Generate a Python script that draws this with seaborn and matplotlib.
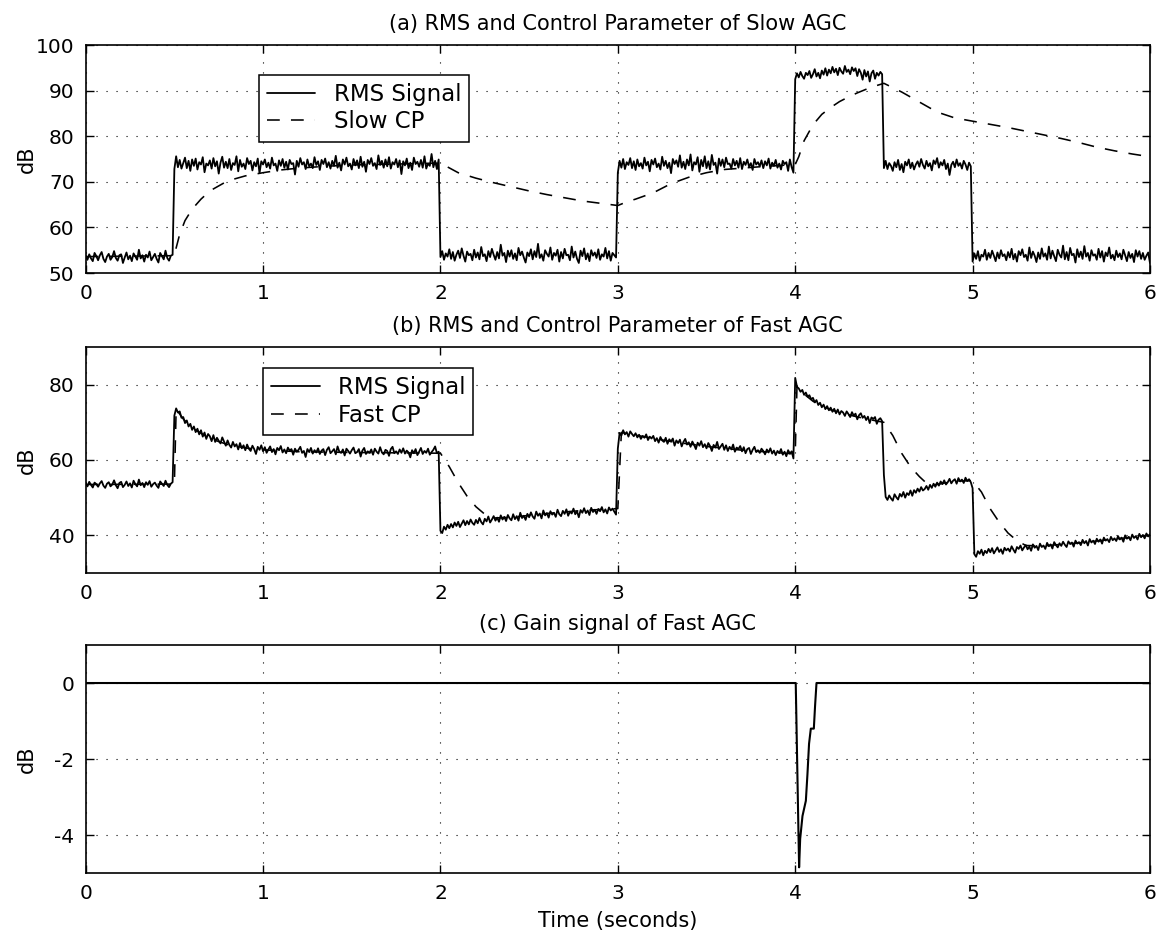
import numpy as np
import pandas as pd
import matplotlib
matplotlib.use("Agg")
import matplotlib.pyplot as plt
from matplotlib.lines import Line2D
import seaborn as sns

# ---------------------------------------------------------------------------
# Data (dB).  RMS signals are sampled every 10 ms from 0 s to 6 s.
# ---------------------------------------------------------------------------
SAMPLE_STEP = 0.01

# (a) RMS signal seen by the slow AGC, one list per input level segment
rms_a_0_05 = [53.8, 52.9, 54.1, 53.2, 52.6, 54.4, 53.7, 52.8, 53.9, 54.6,
              53.1, 52.4, 53.6, 54.2, 52.9, 53.5, 54.8, 53.3, 52.7, 53.9,
              54.1, 52.2, 53.4, 54.5, 53.0, 53.8, 52.6, 54.3, 53.6, 52.9,
              55.1, 53.2, 53.9, 52.5, 54.0, 53.4, 54.7, 52.8, 53.5, 54.2,
              53.1, 52.3, 54.4, 53.7, 53.0, 54.9, 53.3, 52.7, 53.8, 54.0]
rms_a_05_2 = [72.8, 75.6, 73.2, 74.8, 72.9, 74.1, 75.3, 73.0, 74.6, 72.4,
              74.9, 73.5, 75.1, 72.7, 74.3, 73.8, 75.4, 72.1, 74.0, 73.6,
              74.7, 72.9, 75.2, 73.4, 74.5, 71.8, 74.2, 75.5, 73.1, 74.4,
              73.0, 75.0, 72.6, 74.1, 73.7, 75.6, 72.3, 74.8, 73.3, 74.0,
              72.8, 75.2, 73.9, 74.6, 72.5, 74.3, 73.4, 75.1, 71.9, 74.5,
              73.8, 74.9, 73.2, 74.2, 72.9, 75.3, 73.6, 74.0, 72.4, 74.7,
              73.5, 75.0, 73.1, 74.4, 72.7, 74.8, 73.9, 74.1, 71.6, 74.6,
              73.3, 75.2, 73.8, 74.3, 72.8, 74.9, 73.4, 74.0, 73.0, 75.4,
              73.7, 74.5, 72.6, 74.8, 73.9, 75.1, 73.2, 74.3, 72.9, 74.6,
              73.5, 75.7, 73.1, 74.2, 72.5, 74.9, 73.8, 75.3, 73.4, 74.0,
              72.7, 75.0, 73.6, 74.7, 73.0, 75.5, 73.3, 74.4, 72.2, 74.8,
              73.9, 75.2, 73.5, 74.1, 72.8, 75.8, 73.7, 74.6, 73.1, 74.9,
              73.4, 75.4, 72.9, 74.3, 73.8, 75.0, 73.2, 74.7, 71.7, 74.5,
              73.6, 75.1, 73.0, 74.2, 72.6, 75.3, 73.9, 74.4, 73.3, 74.8,
              73.1, 75.6, 72.9, 74.0, 73.5, 76.1, 73.2, 74.6, 72.8, 74.9]
rms_a_2_3 = [53.5, 54.8, 52.9, 54.3, 53.6, 55.2, 53.1, 54.6, 52.7, 54.0,
             54.9, 53.3, 55.4, 53.8, 52.5, 54.7, 53.9, 54.2, 52.8, 55.1,
             53.4, 54.5, 53.0, 55.7, 53.7, 54.1, 52.6, 54.8, 53.5, 55.3,
             54.0, 52.9, 54.6, 53.2, 56.2, 53.8, 54.4, 52.4, 54.9, 53.6,
             55.0, 53.1, 54.3, 52.8, 55.5, 53.9, 54.7, 53.4, 52.3, 54.5,
             53.7, 55.2, 53.0, 54.8, 53.5, 56.4, 53.3, 54.1, 52.7, 55.0,
             54.2, 53.6, 55.6, 52.9, 54.4, 53.8, 55.1, 52.5, 54.6, 53.2,
             55.3, 53.9, 54.0, 52.8, 55.8, 53.4, 54.7, 53.1, 52.2, 54.9,
             53.7, 55.4, 53.0, 54.3, 52.6, 55.0, 53.8, 54.5, 53.3, 55.2,
             52.9, 54.1, 53.6, 55.5, 53.2, 54.8, 52.7, 54.4, 53.9, 53.4]
rms_a_3_4 = [72.0, 74.6, 73.1, 75.0, 72.8, 74.3, 73.7, 75.2, 73.0, 74.5,
             72.6, 74.9, 73.4, 74.1, 72.9, 75.3, 73.6, 74.4, 72.3, 74.8,
             73.8, 75.1, 73.2, 74.0, 72.7, 75.5, 73.5, 74.6, 73.0, 74.2,
             71.9, 75.0, 73.9, 74.7, 73.3, 75.8, 73.1, 74.4, 72.8, 74.9,
             73.6, 76.0, 72.5, 74.3, 73.8, 75.4, 72.2, 74.8, 73.4, 75.6,
             73.0, 74.5, 72.7, 75.9, 73.7, 74.2, 71.8, 75.1, 73.5, 74.9,
             73.2, 75.3, 73.9, 74.0, 72.9, 75.0, 73.6, 74.6, 73.1, 75.2,
             72.8, 74.4, 73.7, 74.9, 73.3, 74.1, 72.6, 75.0, 73.8, 74.3,
             73.4, 74.7, 73.0, 74.5, 73.6, 75.1, 72.9, 74.2, 73.5, 74.8,
             73.1, 74.0, 72.7, 74.6, 73.9, 74.3, 72.4, 74.9, 73.2, 72.0]
rms_a_4_45 = [92.5, 93.8, 92.9, 94.1, 93.2, 92.6, 93.9, 93.4, 94.3, 92.8,
              93.6, 94.7, 93.1, 93.9, 92.7, 94.4, 93.5, 94.9, 93.3, 94.6,
              93.8, 95.2, 94.0, 94.8, 93.4, 95.0, 94.2, 93.7, 95.4, 94.1,
              94.6, 93.6, 95.1, 94.3, 94.9, 93.2, 94.7, 93.9, 92.4, 94.5,
              93.1, 94.2, 92.0, 93.8, 94.4, 92.6, 93.9, 93.3, 94.1, 93.6]
rms_a_45_5 = [73.0, 74.6, 72.8, 74.1, 73.5, 72.4, 74.3, 73.2, 74.8, 72.6,
              73.9, 72.1, 74.4, 73.6, 74.9, 73.0, 74.2, 72.7, 73.8, 74.5,
              73.3, 75.0, 73.7, 72.9, 74.6, 73.4, 74.1, 72.5, 74.7, 73.9,
              75.2, 73.1, 74.3, 73.6, 74.8, 72.8, 74.0, 71.5, 73.7, 74.4,
              73.2, 74.9, 73.5, 74.1, 72.9, 74.6, 73.8, 72.6, 74.2, 73.4]
rms_a_5_6 = [52.5, 54.3, 53.1, 54.8, 52.7, 54.0, 53.6, 55.1, 52.9, 54.4,
             53.3, 54.9, 53.8, 52.6, 54.5, 53.2, 55.0, 53.7, 54.1, 52.8,
             54.6, 53.4, 55.3, 53.0, 54.2, 52.5, 54.8, 53.9, 55.2, 53.5,
             54.0, 52.7, 55.6, 53.3, 54.7, 53.8, 52.4, 54.5, 53.1, 55.4,
             53.6, 54.3, 52.9, 55.8, 53.2, 54.9, 53.7, 52.6, 55.1, 54.0,
             53.4, 56.0, 53.0, 54.6, 52.8, 55.5, 53.9, 54.2, 52.3, 55.2,
             53.5, 54.7, 53.1, 55.9, 53.6, 54.4, 52.7, 55.0, 53.8, 54.1,
             52.9, 55.3, 53.4, 54.8, 52.5, 54.5, 53.7, 55.6, 53.2, 54.0,
             52.8, 54.9, 53.5, 54.3, 53.0, 55.1, 53.9, 52.6, 54.6, 53.3,
             54.2, 52.4, 55.0, 53.6, 54.8, 53.1, 54.4, 52.9, 53.8, 54.5,
             52.2]

# (a) slow control parameter (knot times in s, values in dB)
slow_cp_t = [0.0, 0.5, 0.51, 0.53, 0.56, 0.6, 0.65, 0.7, 0.8, 0.9, 1.0, 1.1,
             1.2, 1.35, 1.5, 2.0, 2.1, 2.2, 2.3, 2.4, 2.5, 2.6, 2.7, 2.8, 2.9,
             3.0, 3.05, 3.1, 3.15, 3.2, 3.3, 3.4, 3.5, 3.6, 3.8, 4.0, 4.02,
             4.05, 4.1, 4.15, 4.2, 4.25, 4.3, 4.35, 4.4, 4.45, 4.5, 4.6, 4.7,
             4.8, 4.9, 5.0, 5.1, 5.2, 5.3, 5.4, 5.5, 5.6, 5.7, 5.8, 5.9, 6.0]
slow_cp_db = [53.6, 53.8, 55.5, 58.5, 61.5, 64.0, 66.2, 68.0, 70.2, 71.3,
              72.0, 72.6, 73.0, 73.4, 73.7, 74.1, 72.0, 70.8, 69.8, 68.9,
              68.0, 67.2, 66.5, 65.8, 65.3, 64.8, 65.6, 66.2, 66.9, 67.6,
              69.6, 71.0, 72.0, 72.7, 73.3, 73.8, 75.5, 79.0, 82.5, 84.8,
              86.3, 87.6, 88.6, 89.5, 90.3, 91.0, 91.6, 89.7, 87.5, 85.3,
              84.0, 83.3, 82.6, 81.9, 81.1, 80.3, 79.5, 78.6, 77.6, 76.8,
              76.1, 75.5]

# (b) RMS signal seen by the fast AGC
rms_b_0_05 = [53.9, 53.0, 54.2, 53.4, 52.7, 54.0, 53.6, 52.9, 53.8, 54.4,
              53.2, 52.6, 53.7, 54.1, 53.0, 53.5, 54.6, 53.3, 52.5, 53.9,
              54.2, 52.8, 53.4, 54.3, 53.1, 53.8, 52.7, 54.5, 53.6, 53.0,
              54.8, 53.3, 53.9, 52.8, 54.1, 53.4, 54.4, 52.9, 53.6, 54.0,
              53.2, 52.6, 54.3, 53.7, 53.1, 54.5, 53.4, 52.8, 53.7, 54.1]
rms_b_05_2 = [71.8, 73.7, 72.6, 72.9, 71.2, 71.4, 69.8, 70.5, 68.9, 69.6,
              68.0, 68.9, 67.4, 68.3, 66.8, 67.9, 66.2, 67.3, 65.6, 66.9,
              66.3, 65.0, 66.6, 64.8, 65.9, 65.1, 64.4, 66.0, 64.9, 63.8,
              65.2, 64.0, 63.3, 64.8, 63.6, 64.2, 62.8, 64.5, 63.1, 63.9,
              62.6, 64.1, 63.0, 62.4, 63.8, 62.9, 61.6, 63.5, 62.7, 63.9,
              62.3, 63.4, 61.9, 62.8, 63.6, 62.1, 62.9, 61.5, 63.2, 62.6,
              63.7, 62.0, 62.8, 61.8, 63.3, 62.5, 62.9, 61.4, 63.0, 62.2,
              62.7, 63.5, 61.9, 62.4, 60.8, 62.9, 62.1, 63.2, 61.7, 62.6,
              62.0, 63.1, 61.6, 62.5, 62.9, 61.3, 62.7, 63.4, 61.8, 62.3,
              62.9, 61.5, 63.6, 62.2, 61.9, 62.8, 61.2, 63.0, 62.4, 61.7,
              62.6, 63.3, 61.8, 62.1, 62.9, 60.9, 62.5, 63.2, 61.6, 62.3,
              61.9, 62.8, 61.4, 63.0, 62.2, 61.7, 63.4, 62.0, 61.5, 62.7,
              62.4, 61.1, 62.9, 63.5, 61.8, 62.3, 61.6, 62.8, 61.9, 63.1,
              61.7, 62.5, 62.0, 60.7, 62.6, 61.8, 62.9, 61.3, 62.2, 63.2,
              61.6, 62.4, 61.9, 63.0, 61.4, 62.1, 62.7, 63.6, 61.8, 62.2]
rms_b_2_3 = [41.2, 40.6, 42.3, 41.5, 42.8, 41.9, 43.0, 42.1, 43.4, 42.5,
             43.6, 42.2, 43.1, 44.0, 42.7, 43.8, 42.9, 44.2, 43.3, 42.8,
             44.1, 43.2, 44.6, 43.5, 42.9, 44.4, 43.7, 45.0, 43.4, 44.2,
             45.1, 43.9, 44.7, 43.6, 45.3, 44.2, 44.9, 43.8, 45.4, 44.5,
             44.0, 45.6, 44.3, 45.1, 43.9, 46.0, 44.6, 45.2, 44.1, 45.7,
             44.8, 46.1, 45.0, 44.4, 46.3, 45.2, 45.8, 44.5, 46.6, 45.3,
             45.9, 44.7, 46.4, 45.5, 46.0, 44.9, 46.8, 45.6, 45.1, 46.5,
             45.7, 46.9, 45.2, 46.3, 45.8, 47.1, 45.6, 46.4, 44.8, 46.7,
             46.0, 47.2, 45.9, 46.6, 45.4, 47.3, 46.2, 46.8, 45.7, 47.0,
             46.4, 47.5, 46.1, 46.9, 45.8, 47.4, 46.6, 47.1, 46.3, 45.5]
rms_b_3_4 = [63.0, 67.2, 66.5, 67.9, 66.8, 67.4, 66.2, 67.6, 66.9, 66.3,
             67.1, 66.0, 66.7, 65.6, 66.4, 65.9, 66.8, 65.3, 66.2, 65.7,
             66.4, 65.0, 65.8, 64.6, 66.1, 65.2, 64.8, 65.9, 64.3, 65.5,
             64.9, 65.7, 63.8, 65.2, 64.5, 65.4, 63.6, 64.8, 65.6, 64.1,
             64.7, 63.5, 64.9, 64.0, 62.9, 64.6, 63.8, 65.0, 63.4, 64.2,
             63.1, 64.5, 63.7, 62.4, 64.0, 63.3, 64.8, 62.9, 63.6, 64.3,
             62.7, 63.9, 62.4, 63.5, 62.8, 64.1, 62.2, 63.3, 62.9, 63.7,
             62.3, 63.4, 61.8, 62.9, 63.2, 61.6, 62.7, 63.5, 62.1, 62.6,
             61.9, 63.0, 62.4, 61.5, 62.8, 62.0, 63.1, 61.7, 62.5, 61.3,
             62.4, 61.8, 62.9, 61.4, 62.2, 61.0, 62.6, 61.7, 62.3, 60.4]
rms_b_4_45 = [81.8, 79.4, 79.0, 78.1, 78.6, 77.3, 77.9, 76.8, 77.2, 76.1,
              76.5, 75.3, 75.9, 74.6, 75.2, 74.0, 74.7, 73.5, 74.3, 73.2,
              73.9, 72.8, 73.6, 72.4, 73.4, 72.1, 73.0, 72.6, 71.7, 72.9,
              72.2, 71.4, 72.7, 71.8, 72.3, 70.8, 71.9, 72.4, 71.2, 71.7,
              70.6, 71.5, 69.8, 71.3, 70.9, 71.4, 69.6, 70.7, 71.1, 70.3]
rms_b_45_5 = [56.0, 50.2, 49.4, 50.6, 49.8, 49.2, 50.9, 50.1, 49.5, 51.0,
              50.3, 51.5, 50.0, 51.2, 50.7, 51.9, 50.5, 52.0, 51.3, 52.4,
              51.6, 52.8, 51.9, 52.3, 53.1, 52.1, 53.4, 52.6, 53.7, 52.9,
              54.0, 53.2, 54.3, 53.6, 54.6, 53.5, 54.1, 55.0, 53.8, 54.5,
              54.9, 53.7, 55.2, 54.3, 54.8, 53.9, 55.3, 54.4, 54.9, 54.1]
rms_b_5_6 = [52.5, 35.0, 34.3, 35.8, 35.1, 36.2, 34.7, 35.9, 35.3, 36.4,
             35.5, 36.6, 35.2, 36.0, 36.8, 35.6, 36.3, 35.1, 36.7, 36.0,
             36.5, 35.7, 37.1, 36.2, 35.4, 36.9, 36.4, 37.3, 36.0, 36.8,
             37.4, 36.3, 37.0, 35.9, 37.6, 36.7, 37.2, 36.1, 37.8, 36.9,
             37.3, 36.4, 38.0, 37.1, 37.6, 36.5, 38.2, 37.4, 36.8, 37.9,
             37.2, 38.3, 37.5, 36.9, 38.4, 37.7, 38.1, 37.0, 38.6, 37.8,
             38.2, 37.4, 38.8, 37.9, 38.5, 37.3, 39.0, 38.1, 38.6, 37.7,
             39.1, 38.3, 38.9, 37.8, 39.4, 38.6, 39.0, 38.2, 39.6, 38.7,
             39.2, 38.5, 39.8, 38.9, 39.4, 38.3, 40.0, 39.1, 39.6, 38.7,
             40.2, 39.3, 39.8, 38.9, 40.4, 39.5, 40.1, 39.2, 40.5, 39.7,
             40.3]

# (b) fast control parameter
fast_cp_t = [0.0, 0.5, 0.51, 0.55, 0.6, 0.7, 0.8, 0.9, 1.0, 1.2, 1.5,
             2.0, 2.05, 2.1, 2.15, 2.2, 2.25, 2.3, 2.4, 2.6, 2.8,
             3.0, 3.02, 3.1, 3.3, 3.5, 3.7,
             4.0, 4.01, 4.05, 4.1, 4.2, 4.3, 4.4,
             4.5, 4.55, 4.6, 4.65, 4.7, 4.75, 4.8, 4.9,
             5.0, 5.05, 5.1, 5.15, 5.2, 5.25, 5.3, 5.4, 5.6, 5.8, 6.0]
fast_cp_db = [53.5, 53.6, 73.5, 70.9, 68.5, 65.7, 64.1, 63.2, 62.7, 62.2, 62.0,
              61.8, 58.2, 54.0, 50.4, 47.6, 45.6, 44.6, 44.8, 45.8, 46.6,
              47.1, 67.3, 66.6, 64.9, 63.6, 62.6,
              61.6, 79.5, 77.5, 75.6, 73.3, 72.0, 70.9,
              70.0, 66.5, 61.8, 58.2, 55.6, 53.4, 53.5, 54.4,
              54.5, 51.5, 47.0, 43.5, 40.6, 38.6, 37.3, 37.2, 38.0, 39.0, 40.0]

# (c) gain applied by the fast AGC
gain_t = [0.0, 4.003, 4.017, 4.022, 4.028, 4.041, 4.06, 4.069, 4.078,
          4.088, 4.105, 4.112, 4.12, 6.0]
gain_db = [0.0, 0.0, -3.6, -4.85, -4.1, -3.5, -3.1, -2.4, -1.6,
           -1.2, -1.2, -0.6, 0.0, 0.0]

x_ticks = [0, 1, 2, 3, 4, 5, 6]

rms_slow = (rms_a_0_05 + rms_a_05_2 + rms_a_2_3 + rms_a_3_4
            + rms_a_4_45 + rms_a_45_5 + rms_a_5_6)
rms_fast = (rms_b_0_05 + rms_b_05_2 + rms_b_2_3 + rms_b_3_4
            + rms_b_4_45 + rms_b_45_5 + rms_b_5_6)

df_slow = pd.DataFrame({"t": np.arange(len(rms_slow)) * SAMPLE_STEP, "db": rms_slow})
df_fast = pd.DataFrame({"t": np.arange(len(rms_fast)) * SAMPLE_STEP, "db": rms_fast})
df_slow_cp = pd.DataFrame({"t": slow_cp_t, "db": slow_cp_db})
df_fast_cp = pd.DataFrame({"t": fast_cp_t, "db": fast_cp_db})
df_gain = pd.DataFrame({"t": gain_t, "db": gain_db})

# ---------------------------------------------------------------------------
# Style
# ---------------------------------------------------------------------------
sns.set_theme(style="ticks")
plt.rcParams.update({
    "font.family": ["DejaVu Sans"],
    "axes.unicode_minus": False,
    "axes.edgecolor": "black",
    "axes.linewidth": 1.2,
    "xtick.color": "black",
    "ytick.color": "black",
    "text.color": "black",
    "axes.labelcolor": "black",
})

TICK_FS = 14.5
TITLE_FS = 15
LABEL_FS = 15
LEGEND_FS = 16.5
DASH = (0, (8, 7))
RMS_LW = 1.3
CP_LW = 1.15

fig = plt.figure(figsize=(11.61, 9.34), dpi=100)
ax_a = fig.add_axes([0.0738, 0.7077, 0.9167, 0.2441])
ax_b = fig.add_axes([0.0738, 0.3865, 0.9167, 0.2420])
ax_c = fig.add_axes([0.0738, 0.0653, 0.9167, 0.2441])


def style_axes(ax, ylim, yticks, title):
    ax.set_xlim(0, 6)
    ax.set_ylim(*ylim)
    ax.set_xticks(x_ticks)
    ax.set_yticks(yticks)
    ax.tick_params(direction="in", length=6, width=1.0, top=True, right=True,
                   labelsize=TICK_FS, pad=8)
    ax.grid(True, color="black", linestyle=(0, (1, 8)), linewidth=0.8)
    for side in ax.spines.values():
        side.set_visible(True)
        side.set_color("black")
        side.set_linewidth(1.2)
    ax.set_title(title, fontsize=TITLE_FS, pad=11)
    ax.set_ylabel("dB", fontsize=LABEL_FS)
    ax.yaxis.set_label_coords(-0.0455, 0.5)
    ax.set_xlabel("")


def add_legend(ax, labels, anchor):
    handles = [Line2D([], [], color="black", lw=RMS_LW),
               Line2D([], [], color="black", lw=CP_LW, linestyle=DASH)]
    leg = ax.legend(handles, labels, loc="upper left", bbox_to_anchor=anchor,
                    borderaxespad=0, fontsize=LEGEND_FS, fancybox=False,
                    framealpha=1, edgecolor="black", handlelength=2.1,
                    handletextpad=0.8, labelspacing=0.2, borderpad=0.35)
    leg.get_frame().set_linewidth(1.1)


# (a) slow AGC
sns.lineplot(data=df_slow, x="t", y="db", ax=ax_a, color="black", lw=RMS_LW,
             estimator=None, sort=False)
sns.lineplot(data=df_slow_cp, x="t", y="db", ax=ax_a, color="black", lw=CP_LW,
             estimator=None, sort=False, linestyle=DASH)
style_axes(ax_a, (50, 100), [50, 60, 70, 80, 90, 100],
           "(a) RMS and Control Parameter of Slow AGC")
add_legend(ax_a, ["RMS Signal", "Slow CP"], (0.163, 0.869))

# (b) fast AGC
sns.lineplot(data=df_fast, x="t", y="db", ax=ax_b, color="black", lw=RMS_LW,
             estimator=None, sort=False)
sns.lineplot(data=df_fast_cp, x="t", y="db", ax=ax_b, color="black", lw=CP_LW,
             estimator=None, sort=False, linestyle=DASH)
style_axes(ax_b, (30, 90), [40, 60, 80],
           "(b) RMS and Control Parameter of Fast AGC")
add_legend(ax_b, ["RMS Signal", "Fast CP"], (0.167, 0.907))

# (c) gain of fast AGC
sns.lineplot(data=df_gain, x="t", y="db", ax=ax_c, color="black", lw=1.5,
             estimator=None, sort=False)
style_axes(ax_c, (-5, 1), [-4, -2, 0], "(c) Gain signal of Fast AGC")
ax_c.set_xlabel("Time (seconds)", fontsize=LABEL_FS, labelpad=6)

fig.savefig("out.png", dpi=100, facecolor="white")
